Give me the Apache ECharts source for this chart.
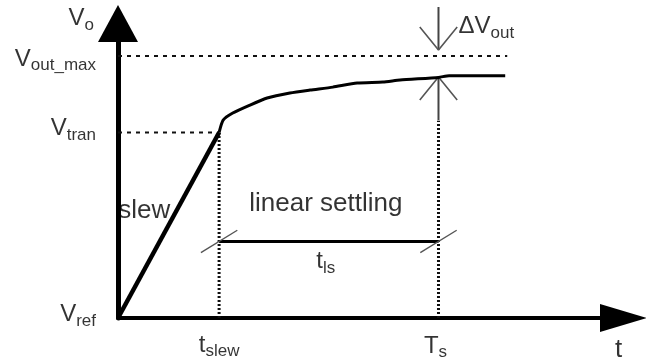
<!DOCTYPE html>
<html>
<head>
<meta charset="utf-8">
<script src="https://cdn.jsdelivr.net/npm/echarts@6/dist/echarts.min.js"></script>
<style>
  html, body { margin: 0; padding: 0; background: #fff; }
  #chart { width: 646px; height: 364px; }
</style>
</head>
<body>
<div id="chart"></div>
<script>
// Amplifier output step response: slewing phase followed by linear settling.
// Units are normalised (time 0..100, output 0..100).
const tSlew = 20;        // end of slewing
const tSettle = 63.4;    // settling time T_s
const tEnd = 76.6;       // last drawn time
const vRef = 0;
const vTran = 63;
const vOutMax = 89;
const lsLevel = 26;      // height of the t_ls dimension line

const slewPath = [[0, 0], [20, 63]];
const settlePath = [
  [20, 63], [20.8, 67.2], [22.7, 69.6], [26.1, 72.3], [29.5, 74.7], [34, 76.4],
  [38, 77.4], [42.5, 78.4], [47.3, 79.8], [52.4, 80.1], [55.8, 80.8],
  [63.4, 81.7], [65.5, 82.3], [76.6, 82.3]
];

const yTickValues = [vRef, vTran, vOutMax];
const yTickLabels = [['V', 'ref'], ['V', 'tran'], ['V', 'out_max']];
const xTickValues = [tSlew, tSettle];
const xTickLabels = [['t', 'slew'], ['T', 's']];

const FONT = '"Liberation Sans", Arial, Helvetica, sans-serif';
const rich = {
  m: { fontSize: 24, lineHeight: 24, verticalAlign: 'top', color: '#000', fontFamily: FONT },
  s: { fontSize: 17, lineHeight: 27, verticalAlign: 'bottom', color: '#000', fontFamily: FONT },
  w: { fontSize: 26, lineHeight: 26, color: '#000', fontFamily: FONT }
};
const subText = (pair) => '{m|' + pair[0] + '}{s|' + pair[1] + '}';

function seg(points, style, z) {
  return {
    type: 'line', data: points, symbol: 'none', silent: true, clip: false,
    animation: false, z: z || 2,
    lineStyle: Object.assign({ color: '#000', width: 2 }, style)
  };
}

// small slanted tick marks at the ends of the t_ls dimension line
function slash(x, y) {
  return seg([[x - 3.6, y - 3.8], [x + 3.6, y + 3.8]], { color: '#555', width: 1.4 }, 3);
}

// arrow pointing to (x, y) coming from fromY
function arrow(x, y, fromY) {
  const dir = fromY > y ? 1 : -1;
  return [
    seg([[x, fromY], [x, y]], { color: '#444', width: 2 }, 3),
    seg([[x - 3.7, y + dir * 7.8], [x, y], [x + 3.7, y + dir * 7.8]], { color: '#555', width: 1.6 }, 3)
  ];
}

const labels = [];
function addLabel(value, text, opt) {
  labels.push({
    value: value,
    label: Object.assign({ show: true, formatter: text, rich: rich }, opt)
  });
}

// tick labels on the output axis
const yOffsets = [-2, -2.5, 4.5];
yTickValues.forEach((v, i) => {
  addLabel([0, v], subText(yTickLabels[i]), { position: 'left', distance: 22, offset: [0, yOffsets[i]] });
});
// tick labels on the time axis
const xDistances = [15, 16];
const xOffsets = [0, -3];
xTickValues.forEach((t, i) => {
  addLabel([t, 0], subText(xTickLabels[i]), { position: 'bottom', distance: xDistances[i], offset: [xOffsets[i], 0] });
});
// axis names
addLabel([0, 100], subText(['V', 'o']), { position: 'left', distance: 24, offset: [0, -3.5] });
addLabel([100, 0], '{w|t}', { position: 'bottom', distance: 19, offset: [-5, 0] });
// annotations
const tMid = (tSlew + tSettle) / 2;
addLabel([tMid, lsLevel], subText(['t', 'ls']), { position: 'bottom', distance: 8, offset: [-3, 0] });
addLabel([tMid, lsLevel], '{w|linear settling}', { position: 'top', distance: 25, offset: [-3, 0] });
const sx = slewPath[1][0] * 0.6, sy = slewPath[1][1] * 0.6;
addLabel([sx, sy], '{w|slew}', { position: 'left', distance: 8.5, offset: [0, 4] });
addLabel([tSettle, 99.5], subText(['\u0394V', 'out']), { position: 'right', distance: 20, offset: [0, 3] });

const chart = echarts.init(document.getElementById('chart'), null, { renderer: 'canvas' });
chart.setOption({
  animation: false,
  backgroundColor: '#fff',
  grid: { left: 118, right: 22.5, top: 23.5, bottom: 46, containLabel: false, outerBoundsMode: 'none' },
  xAxis: {
    type: 'value', min: 0, max: 100,
    splitLine: { show: false }, axisTick: { show: false }, axisLabel: { show: false },
    axisLine: {
      show: true, onZero: false,
      symbol: ['none', 'triangle'], symbolSize: [28, 47],
      lineStyle: { color: '#000', width: 4 }
    }
  },
  yAxis: {
    type: 'value', min: 0, max: 100,
    splitLine: { show: false }, axisTick: { show: false }, axisLabel: { show: false },
    axisLine: {
      show: true, onZero: false,
      symbol: ['none', 'triangle'], symbolSize: [40, 37],
      lineStyle: { color: '#000', width: 5 }
    }
  },
  series: [
    // guide lines
    seg([[0, vOutMax], [77, vOutMax]], { color: '#111', width: 2, type: [4, 5] }, 1),
    seg([[0, vTran], [tSlew, vTran]], { color: '#111', width: 2, type: [4, 5] }, 1),
    seg([[tSlew, 0], [tSlew, vTran]], { color: '#111', width: 3, type: [2, 2] }, 1),
    seg([[tSettle, 0], [tSettle, 67]], { color: '#111', width: 3, type: [2, 2] }, 1),
    // response
    seg(slewPath, { color: '#000', width: 4.5 }, 4),
    Object.assign(seg(settlePath, { color: '#000', width: 3 }, 4), { smooth: 0.2 }),
    // t_ls dimension
    seg([[tSlew, lsLevel], [tSettle, lsLevel]], { color: '#000', width: 3 }, 3),
    slash(tSlew, lsLevel),
    slash(tSettle, lsLevel),
    // delta V arrows
    ...arrow(tSettle, 91, 105.6),
    ...arrow(tSettle, 81.8, 67.2),
    {
      type: 'scatter', data: labels, symbolSize: 0, clip: false, silent: true,
      animation: false, z: 10
    }
  ]
});
</script>
</body>
</html>
